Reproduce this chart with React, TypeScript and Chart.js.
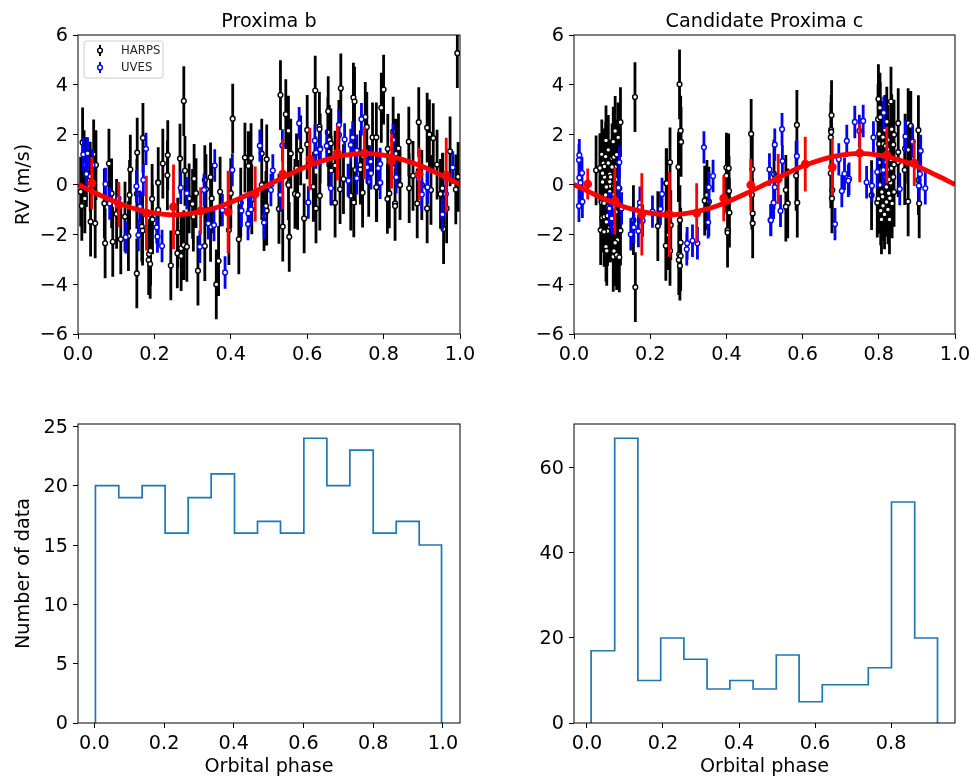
import { useEffect, useRef } from "react";
import { Chart, registerables } from "chart.js";

Chart.register(...registerables);
Chart.defaults.font.family = "'DejaVu Sans'";

type Pt = [number, number];

// Proxima b panel, [phase, rv]
const harpsB: Pt[] = [
  [.012,1.69],[.016,.78],[.022,.5],[.032,.32],[.041,1.21],[.047,.78],[.081,.84],[.137,.6],[.155,1.28],[.17,1.87],
  [.21,.09],[.222,.84],[.235,1.18],[.234,.37],[.267,1.04],[.277,3.35],[.28,.55],[.304,.23],[.332,.18],[.347,.29],
  [.405,2.64],[.437,1.08],[.446,.74],[.453,1.06],[.481,1.24],[.494,1.01],[.481,-.02],
  [.53,3.59],[.544,2.82],[.551,2.16],[.557,1.24],[.551,.05],[.572,.65],[.583,1.37],[.6,1.61],[.6,2.19],[.621,3.77],
  [.632,2.32],[.632,2.22],[.634,1.45],[.655,2.94],[.654,2.1],[.658,1.79],[.662,1.65],[.656,1.32],[.663,.56],[.673,.76],
  [.683,1.99],[.688,3.86],[.695,.22],[.721,3.49],[.724,3.33],[.726,.58],[.739,.78],[.739,.6],[.752,2.71],[.756,2.31],
  [.761,.18],[.771,1.89],[.781,1.89],[.782,-.11],[.794,3.08],[.8,3.81],[.811,1.43],[.825,2.12],[.832,1.24],[.839,1.45],
  [.843,-.02],[.866,1.72],[.877,.35],[.892,2.5],[.9,-.02],[.914,2.28],[.92,2.01],[.93,1.86],[.94,.8],[.955,-.13],
  [.974,1.33],[.993,5.27],[.995,.31],
  [.007,-.29],[.01,-.86],[.018,-.56],[.033,-1.49],[.045,-1.56],[.071,-2.36],[.069,-.76],[.088,-.36],[.091,-2.3],
  [.112,-2.2],[.101,-1.18],[.123,-1.29],[.132,-2.07],[.135,-.42],[.154,-.38],[.154,-3.57],[.167,-1.69],[.169,-1.85],
  [.186,-2.79],[.19,-2.66],[.185,-3.03],[.189,-3.19],[.194,-.58],[.195,-1.4],[.21,-1.02],[.21,.07],[.243,-3.25],
  [.261,-1.93],[.26,-2.76],[.27,-2.56],[.27,-2.87],[.277,-2.43],[.285,-2.5],[.291,-.56],[.3,-.78],[.302,-1.29],
  [.309,-.35],[.314,-3.46],[.332,-2.47],[.335,-.19],[.35,-.56],[.347,-1.7],[.362,-4.01],[.368,-3.07],[.372,-.29],
  [.395,-1.83],[.4,-.35],[.421,-2.2],[.426,-.73],[.455,-.6],
  [.487,-1.27],[.494,-1.05],[.492,-.86],[.526,-.98],[.536,-1.69],[.551,-.02],[.553,-2.1],[.568,-.38],[.575,-.42],
  [.592,-1.36],[.623,-.96],[.616,-.09],[.633,-.45],[.673,-.73],[.686,-.19],[.714,-.45],[.722,-.72],[.745,-.33],
  [.761,.11],[.781,-.11],[.81,-.58],[.815,-.36],[.83,-.76],[.83,-.86],[.843,-.02],[.867,-.15],[.888,-.76],[.9,-.02],
  [.914,-.96],[.924,-.22],[.949,-.38],[.954,-.15],[.957,-1.79],[.965,-.96],[.989,-.2],
];

const uvesB: Pt[] = [
  [.014,1.21],[.025,1.25],[.022,.42],[.038,.78],[.072,.02],[.153,-.07],[.171,.18],[.178,1.43],[.269,-.13],[.358,.76],
  [.404,.58],[.476,1.56],[.535,1.57],[.579,2.46],[.62,1.76],[.51,.56],[.623,1.28],[.634,1.41],[.651,1.55],[.683,2.39],
  [.698,1.81],[.714,1.59],[.719,1.89],[.73,1.36],[.742,2.62],[.707,.18],[.73,.25],[.766,.92],[.757,.69],[.791,.82],
  [.786,.65],[.767,.45],[.791,.07],[.825,1.79],[.833,.29],[.893,.21],[.914,-.11],[.981,.68],
  [.083,-.76],[.106,-.56],[.125,-2.12],[.158,-2.03],[.162,-.89],[.206,-1.72],[.208,-2.09],[.22,-2.47],[.285,-.35],
  [.319,-2.5],[.33,-.22],[.341,-1.56],[.356,-1.63],[.378,-1.03],[.385,-3.53],[.428,-1.05],[.446,-1.16],[.453,-1],
  [.445,-1.59],[.487,-1.53],[.505,-.22],[.53,-.42],[.603,-.72],[.662,-.15],[.708,.15],[.791,.07],[.9,-.4],[.915,-.11],
  [.963,-.38],[.954,-1.2],
];

const binPhaseB = [.036,.107,.179,.25,.321,.393,.464,.536,.607,.679,.75,.821,.893,.964];
const binRvB = [.05,-.82,-1.15,-.9,-1.06,-1.1,-.38,.42,1.02,1.26,1.26,.94,.42,.38];
const binErrB = [1.05,.9,1.5,1.7,.95,1.65,1.1,1.4,1.25,1.1,1.05,1.1,1.05,1.5];

// Candidate Proxima c panel
const harpsC: Pt[] = [
  [.058,.57],[.073,1.21],[.077,.85],[.08,.72],[.084,1.77],[.083,1.12],[.09,1.39],[.088,.88],[.1,1.05],[.094,.41],
  [.103,1.72],[.108,2.15],[.116,1.89],[.122,2.5],[.09,.14],[.097,-.05],[.116,-.13],[.108,.7],[.16,3.51],[.242,.05],
  [.252,.89],[.277,4.02],[.28,2.16],[.281,1.71],[.274,.7],[.4,.35],[.4,.68],[.406,.65],[.465,2.03],[.468,.61],
  [.073,-.72],[.07,-1.83],[.074,-1.33],[.08,-1.29],[.084,-2.5],[.086,-2.66],[.09,-1.43],[.09,-.89],[.094,-1.73],
  [.094,-.29],[.093,-.07],[.094,.11],[.105,-2.67],[.103,-2.9],[.114,-2.23],[.108,-2.34],[.112,-2.83],[.119,-2.92],
  [.122,-1.85],[.119,-.15],[.114,-.56],[.156,-1.43],[.161,-4.12],[.22,-1.67],[.241,-2.46],[.243,.05],[.248,-2.03],
  [.252,-2.66],[.254,-1.63],[.278,-1.43],[.28,-2.33],[.276,-2.81],[.28,-2.87],[.275,-3.03],[.278,-3.26],[.343,-.65],
  [.354,-.69],[.349,-.42],[.407,-.26],[.405,-1.09],[.408,-1.13],[.403,-1.83],[.403,-1.93],[.469,-1.16],[.469,-1.56],
  [.467,-.42],
  [.525,.41],[.585,2.39],[.583,.35],[.676,2.78],[.675,2.19],[.675,2.11],[.674,1.89],[.674,.45],[.799,3.43],[.803,3.08],
  [.798,2.62],[.804,2.7],[.821,2.52],[.832,3.33],[.816,2.19],[.834,2.22],[.851,2.46],[.801,1.63],[.812,1.63],[.807,1.95],
  [.824,1.79],[.823,1.41],[.801,.88],[.833,.65],[.831,.09],[.803,.01],[.877,2.46],[.884,2.35],[.904,2.18],[.869,1.44],
  [.877,1.39],[.868,.58],[.906,-.05],[.904,.18],
  [.556,-.22],[.561,-.76],[.556,-.89],[.586,-.73],[.678,-.22],[.677,-.56],[.781,-.43],[.796,-.73],[.799,-.57],[.803,-.02],
  [.81,-.49],[.835,-.76],[.815,-1.2],[.807,-1.4],[.828,-1.4],[.877,-.68],[.906,-.76],[.831,.07],
  // inside the two dense clusters
  [.09,.86],[.1,.7],[.068,.66],[.096,.3],[.083,-.42],[.079,-.75],[.098,-1.1],[.088,-1.25],[.098,-1.42],[.085,-1.5],
  [.088,-1.87],[.079,-1.9],[.1,-1.7],[.105,-.9],[.11,-1.1],[.11,.2],[.105,-.4],[.08,.3],[.075,.1],[.085,-.1],
  [.105,1.1],[.112,1.2],[.075,.45],
  [.801,2.03],[.811,1.9],[.818,1.55],[.826,1.2],[.808,1.15],[.815,.9],[.812,.3],[.822,.6],[.826,.2],[.806,.55],
  [.82,-.1],[.826,-.35],[.808,-.3],[.82,-.7],[.811,-.85],[.824,-1],[.805,-1.05],[.829,-.55],[.832,1],[.838,1.6],
  [.84,.8],[.838,.3],[.84,-.3],[.851,.9],[.84,2],[.851,1.3],
];

const uvesC: Pt[] = [
  [.014,1.18],[.013,.98],[.014,.27],[.021,.46],[.017,.07],[.119,.89],[.117,-.13],[.341,1.49],[.354,-.11],[.365,.34],
  [.513,.6],[.013,-.86],[.022,-.69],[.093,-.96],[.099,-1.36],[.125,-.96],[.173,-.73],[.173,-.92],[.149,-2],[.157,-1.72],
  [.169,-1.87],[.18,-1.45],[.206,-1.09],[.227,-.98],[.231,-.38],[.296,-2.6],[.297,-2.36],[.311,-2.26],[.324,-2.36],
  [.352,-1.52],[.516,-1.43],[.527,1.6],[.546,2.22],[.547,.94],[.585,1.14],[.695,1.01],[.71,.43],[.716,1.75],[.722,.23],
  [.737,2.51],[.749,2.15],[.759,2.55],[.768,.09],[.786,1.89],[.782,-.05],[.796,.5],[.812,.58],[.813,2.88],[.855,-.18],
  [.87,1.93],[.889,1.72],[.91,1.35],[.908,.42],[.905,-.05],[.922,-.15],[.517,-1.43],[.524,-.73],[.527,-.11],[.542,-1.06],
  [.703,-.26],[.685,-1.59],[.72,.15],
];

const binPhaseC = [.036,.107,.178,.25,.322,.393,.464,.536,.607,.678,.75,.821,.893];
const binRvC = [.02,-.66,-1.2,-1.2,-1.15,-.55,-.02,.22,.82,.7,1.26,1.18,.86];
const binErrC = [.62,1.35,1.65,1.7,1.2,.92,1.05,1,1.1,1.15,1.17,1.14,.92];

const harpsError = 1.4;
const uvesError = 0.65;

const curvePhase = [0,.05,.1,.15,.2,.25,.3,.35,.4,.45,.5,.55,.6,.65,.7,.75,.8,.85,.9,.95,1];
const curveRv = [0,-.37,-.71,-.98,-1.15,-1.22,-1.15,-.98,-.71,-.37,0,.38,.73,1,1.18,1.25,1.18,1,.73,.38,0];

// histograms: bin edges and counts
const histEdgesB = [.003,.07,.137,.203,.269,.335,.402,.468,.534,.601,.667,.733,.8,.866,.932,.996];
const histCountsB = [20,19,20,16,19,21,16,17,16,24,20,23,16,17,15];
const histEdgesC = [.011,.073,.134,.194,.255,.316,.376,.437,.498,.558,.619,.68,.74,.801,.862,.922];
const histCountsC = [17,67,10,20,15,8,10,8,16,5,9,9,13,52,20];

const BLACK = "#000000";
const BLUE = "#0000ff";
const RED = "#ff0000";
const HIST = "#1f77b4";
const TICK_FONT = { size: 19.2 };

const minus = (v: string) => v.replace("-", "\u2212");

function errorBars(xs: number[], ys: number[], errs: number[]) {
  return xs.flatMap((x, i) => [
    { x, y: ys[i] - errs[i] },
    { x, y: ys[i] + errs[i] },
    { x, y: null },
  ]);
}

function barsDataset(xs: number[], ys: number[], errs: number[], color: string, order: number, width = 2.8) {
  return {
    data: errorBars(xs, ys, errs),
    showLine: true,
    spanGaps: false,
    borderColor: color,
    borderWidth: width,
    pointRadius: 0,
    order,
  };
}

function markerDataset(pts: Pt[], color: string, order: number) {
  return {
    data: pts.map(([x, y]) => ({ x, y })),
    showLine: false,
    pointRadius: 2.4,
    pointBorderWidth: 1.4,
    pointBackgroundColor: "#ffffff",
    pointBorderColor: color,
    order,
  };
}

function rvDatasets(harps: Pt[], uves: Pt[], binX: number[], binY: number[], binE: number[]) {
  return [
    barsDataset(harps.map((p) => p[0]), harps.map((p) => p[1]), harps.map(() => harpsError), BLACK, 8),
    markerDataset(harps, BLACK, 7),
    barsDataset(uves.map((p) => p[0]), uves.map((p) => p[1]), uves.map(() => uvesError), BLUE, 6),
    markerDataset(uves, BLUE, 5),
    barsDataset(binX, binY, binE, RED, 4, 2.8),
    {
      data: binX.map((x, i) => ({ x, y: binY[i] })),
      showLine: false,
      pointRadius: 4.4,
      pointBorderWidth: 0,
      pointBackgroundColor: RED,
      order: 3,
    },
    {
      data: curvePhase.map((x, i) => ({ x, y: curveRv[i] })),
      showLine: true,
      borderColor: RED,
      borderWidth: 4.8,
      cubicInterpolationMode: "monotone",
      pointRadius: 0,
      order: 2,
    },
  ];
}

function histDataset(edges: number[], counts: number[]) {
  const data = [{ x: edges[0], y: 0 }];
  counts.forEach((c, i) => {
    data.push({ x: edges[i], y: c }, { x: edges[i + 1], y: c });
  });
  data.push({ x: edges[edges.length - 1], y: 0 });
  return {
    data,
    showLine: true,
    borderColor: HIST,
    borderWidth: 1.7,
    pointRadius: 0,
  };
}

const framePlugin = {
  id: "frame",
  afterDraw(chart: any) {
    const { ctx, chartArea: a } = chart;
    ctx.save();
    ctx.strokeStyle = BLACK;
    ctx.lineWidth = 1;
    ctx.strokeRect(a.left, a.top, a.right - a.left, a.bottom - a.top);
    ctx.restore();
  },
};

const legendPlugin = {
  id: "rvLegend",
  afterDraw(chart: any) {
    const { ctx, chartArea: a } = chart;
    const x = a.left + 6;
    const y = a.top + 6;
    ctx.save();
    ctx.beginPath();
    ctx.roundRect(x, y, 79, 37, 2.5);
    ctx.fillStyle = "rgba(255,255,255,0.8)";
    ctx.fill();
    ctx.strokeStyle = "#cccccc";
    ctx.lineWidth = 1;
    ctx.stroke();
    [["HARPS", BLACK, 9.5], ["UVES", BLUE, 26.5]].forEach(([label, color, dy]: any) => {
      const mx = x + 16;
      const my = y + dy;
      ctx.strokeStyle = color;
      ctx.lineWidth = 2;
      ctx.beginPath();
      ctx.moveTo(mx, my - 5.5);
      ctx.lineTo(mx, my + 5.5);
      ctx.stroke();
      ctx.beginPath();
      ctx.arc(mx, my, 2.4, 0, Math.PI * 2);
      ctx.fillStyle = "#ffffff";
      ctx.fill();
      ctx.lineWidth = 1.4;
      ctx.stroke();
      ctx.fillStyle = "#262626";
      ctx.font = "11.7px 'DejaVu Sans'";
      ctx.textBaseline = "middle";
      ctx.fillText(label, x + 37, my + 0.5);
    });
    ctx.restore();
  },
};

interface PanelOpts {
  datasets: any[];
  title?: string;
  xMin: number;
  xMax: number;
  yMin: number;
  yMax: number;
  yStep: number;
  xTitle?: string;
  yTitle?: string;
  legend?: boolean;
  bottomGap: number;
}

function makeConfig(o: PanelOpts, rightGap: number): any {
  return {
    type: "scatter",
    data: { datasets: o.datasets },
    plugins: o.legend ? [framePlugin, legendPlugin] : [framePlugin],
    options: {
      responsive: false,
      animation: false,
      events: [],
      layout: { padding: { top: o.title ? 0 : 35, right: rightGap, left: 0, bottom: 0 } },
      plugins: {
        legend: { display: false },
        tooltip: { enabled: false },
        title: {
          display: !!o.title,
          text: o.title,
          fullSize: false,
          color: BLACK,
          font: { size: 19.2, weight: "normal", lineHeight: "20px" },
          padding: { top: 12, bottom: 3 },
        },
      },
      scales: {
        x: {
          type: "linear",
          min: o.xMin,
          max: o.xMax,
          afterFit: (s: any) => {
            s.height = o.bottomGap;
          },
          border: { display: false },
          grid: { drawOnChartArea: false, drawTicks: true, tickLength: 5, tickColor: BLACK, tickWidth: 1 },
          ticks: {
            stepSize: 0.2,
            includeBounds: false,
            autoSkip: false,
            maxRotation: 0,
            color: BLACK,
            padding: 4,
            font: TICK_FONT,
            callback: (v: any) => Number(v).toFixed(1),
          },
          title: {
            display: !!o.xTitle,
            text: o.xTitle,
            color: BLACK,
            font: { size: 19.2, lineHeight: "20px" },
            padding: { top: 0, bottom: 1 },
          },
        },
        y: {
          type: "linear",
          min: o.yMin,
          max: o.yMax,
          afterFit: (s: any) => {
            s.width = 78;
          },
          border: { display: false },
          grid: { drawOnChartArea: false, drawTicks: true, tickLength: 5, tickColor: BLACK, tickWidth: 1 },
          ticks: {
            stepSize: o.yStep,
            includeBounds: false,
            autoSkip: false,
            color: BLACK,
            padding: 5,
            labelOffset: 1.5,
            font: TICK_FONT,
            callback: (v: any) => minus(String(v)),
          },
          title: {
            display: !!o.yTitle,
            text: o.yTitle,
            color: BLACK,
            font: { size: 19.2, lineHeight: "20px" },
            padding: { top: 14, bottom: 0 },
          },
        },
      },
    },
  };
}

function Panel({ left, top, width, height, config }: { left: number; top: number; width: number; height: number; config: any }) {
  const ref = useRef<HTMLCanvasElement>(null);

  useEffect(() => {
    if (!ref.current) return;
    const chart = new Chart(ref.current, config);
    return () => chart.destroy();
  }, [config]);

  return <canvas ref={ref} width={width} height={height} style={{ position: "absolute", left, top, width, height }} />;
}

const configA = makeConfig(
  {
    datasets: rvDatasets(harpsB, uvesB, binPhaseB, binRvB, binErrB),
    title: "Proxima b",
    xMin: 0, xMax: 1, yMin: -6, yMax: 6, yStep: 2,
    yTitle: "RV (m/s)",
    legend: true,
    bottomGap: 55,
  },
  25
);
const configB = makeConfig(
  {
    datasets: rvDatasets(harpsC, uvesC, binPhaseC, binRvC, binErrC),
    title: "Candidate Proxima c",
    xMin: 0, xMax: 1, yMin: -6, yMax: 6, yStep: 2,
    bottomGap: 55,
  },
  30
);
const configC = makeConfig(
  {
    datasets: [histDataset(histEdgesB, histCountsB)],
    xMin: -0.047, xMax: 1.049, yMin: 0, yMax: 25.2, yStep: 5,
    xTitle: "Orbital phase",
    yTitle: "Number of data",
    bottomGap: 55,
  },
  25
);
const configD = makeConfig(
  {
    datasets: [histDataset(histEdgesC, histCountsC)],
    xMin: -0.034, xMax: 0.968, yMin: 0, yMax: 70.35, yStep: 20,
    xTitle: "Orbital phase",
    bottomGap: 55,
  },
  30
);

export default function App() {
  return (
    <div style={{ position: "absolute", left: 0, top: 0, width: 971, height: 778, background: "#fff", overflow: "hidden" }}>
      <Panel left={0} top={0} width={485} height={389} config={configA} />
      <Panel left={496} top={0} width={489} height={389} config={configB} />
      <Panel left={0} top={389} width={485} height={389} config={configC} />
      <Panel left={496} top={389} width={489} height={389} config={configD} />
    </div>
  );
}
